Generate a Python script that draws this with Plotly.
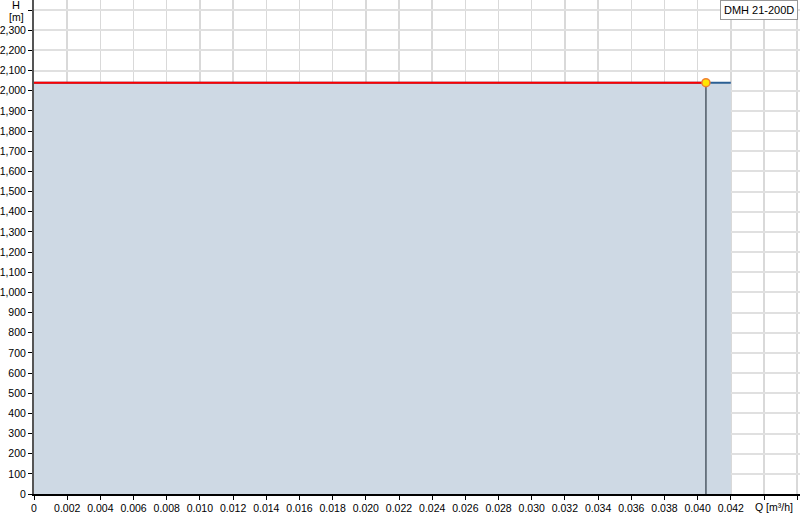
import plotly.graph_objects as go

# Data
pump_q = [0.0, 0.042]          # m3/h
pump_h = [2040, 2040]          # m
op_q = [0.0, 0.0405]
op_h = [2040, 2040]
duty_q = 0.0405
duty_h = 2040
x_ticks = [0, 0.002, 0.004, 0.006, 0.008, 0.010, 0.012, 0.014, 0.016, 0.018, 0.020,
           0.022, 0.024, 0.026, 0.028, 0.030, 0.032, 0.034, 0.036, 0.038, 0.040, 0.042,
           0.044, 0.046]
x_labels = ["0"] + [f"{v:.3f}" for v in x_ticks[1:-2]] + ["", ""]
x_title = "Q [m³/h]"
y_ticks = list(range(0, 2500, 100))
y_labels = [f"{v:,}" for v in y_ticks[:-1]] + [""]
y_title = ["H", "[m]"]
pump_name = "DMH 21-200D"

fig = go.Figure()
fig.add_trace(go.Scatter(x=pump_q, y=pump_h, mode="lines", fill="tozeroy",
                         fillcolor="rgb(206,217,228)", line=dict(color="#2b5f93", width=2),
                         hoverinfo="skip"))
fig.add_trace(go.Scatter(x=op_q, y=op_h, mode="lines",
                         line=dict(color="#ff0000", width=2), hoverinfo="skip"))
fig.add_trace(go.Scatter(x=[duty_q, duty_q], y=[0, duty_h], mode="lines",
                         line=dict(color="#4f5b66", width=1.5), hoverinfo="skip"))
fig.add_trace(go.Scatter(x=[duty_q], y=[duty_h], mode="markers",
                         marker=dict(size=8, color="#ffe600", line=dict(color="#f08030", width=1.5)),
                         hoverinfo="skip"))

fig.update_layout(
    width=800, height=520,
    margin=dict(l=34, r=0, t=0, b=26, autoexpand=False),
    paper_bgcolor="white", plot_bgcolor="white",
    showlegend=False,
    font=dict(family="Liberation Sans, Arial, sans-serif", size=10.5, color="black"),
    xaxis=dict(range=[0, 0.04617], tickvals=x_ticks, ticktext=x_labels, tickangle=0,
               automargin=False,
               showgrid=True, gridcolor="#d9d9d9", gridwidth=1.5,
               showline=True, linecolor="black", linewidth=1.5,
               ticks="outside", ticklen=4, tickcolor="black", zeroline=False,
               tickfont=dict(size=10.5)),
    yaxis=dict(range=[0, 2450], tickvals=y_ticks, ticktext=y_labels,
               automargin=False,
               showgrid=True, gridcolor="#e0e0e0", gridwidth=2,
               showline=True, linecolor="#555555", linewidth=2,
               ticks="outside", ticklen=4, tickcolor="black", zeroline=False,
               tickfont=dict(size=10.5)),
    annotations=[
        dict(text=y_title[0], xref="paper", yref="paper", x=-0.023, y=1.0, xanchor="center", yanchor="middle",
             yshift=-5, showarrow=False, font=dict(size=11)),
        dict(text=y_title[1], xref="paper", yref="paper", x=-0.023, y=1.0, xanchor="center", yanchor="middle",
             yshift=-17, showarrow=False, font=dict(size=10.5)),
        dict(text=x_title, xref="paper", yref="paper", x=0.994, y=0.0, xanchor="right", yanchor="top",
             yshift=-5, showarrow=False, font=dict(size=10.5)),
        dict(text=pump_name, xref="paper", yref="paper", x=0.997, y=1.0,
             xanchor="right", yanchor="top", showarrow=False,
             bgcolor="white", bordercolor="#999999", borderwidth=1, borderpad=3,
             font=dict(size=11)),
    ],
)
fig.write_html("out.html", config={"displayModeBar": False, "staticPlot": True},
               post_script="document.body.style.margin='0';document.body.style.overflow='hidden';")
